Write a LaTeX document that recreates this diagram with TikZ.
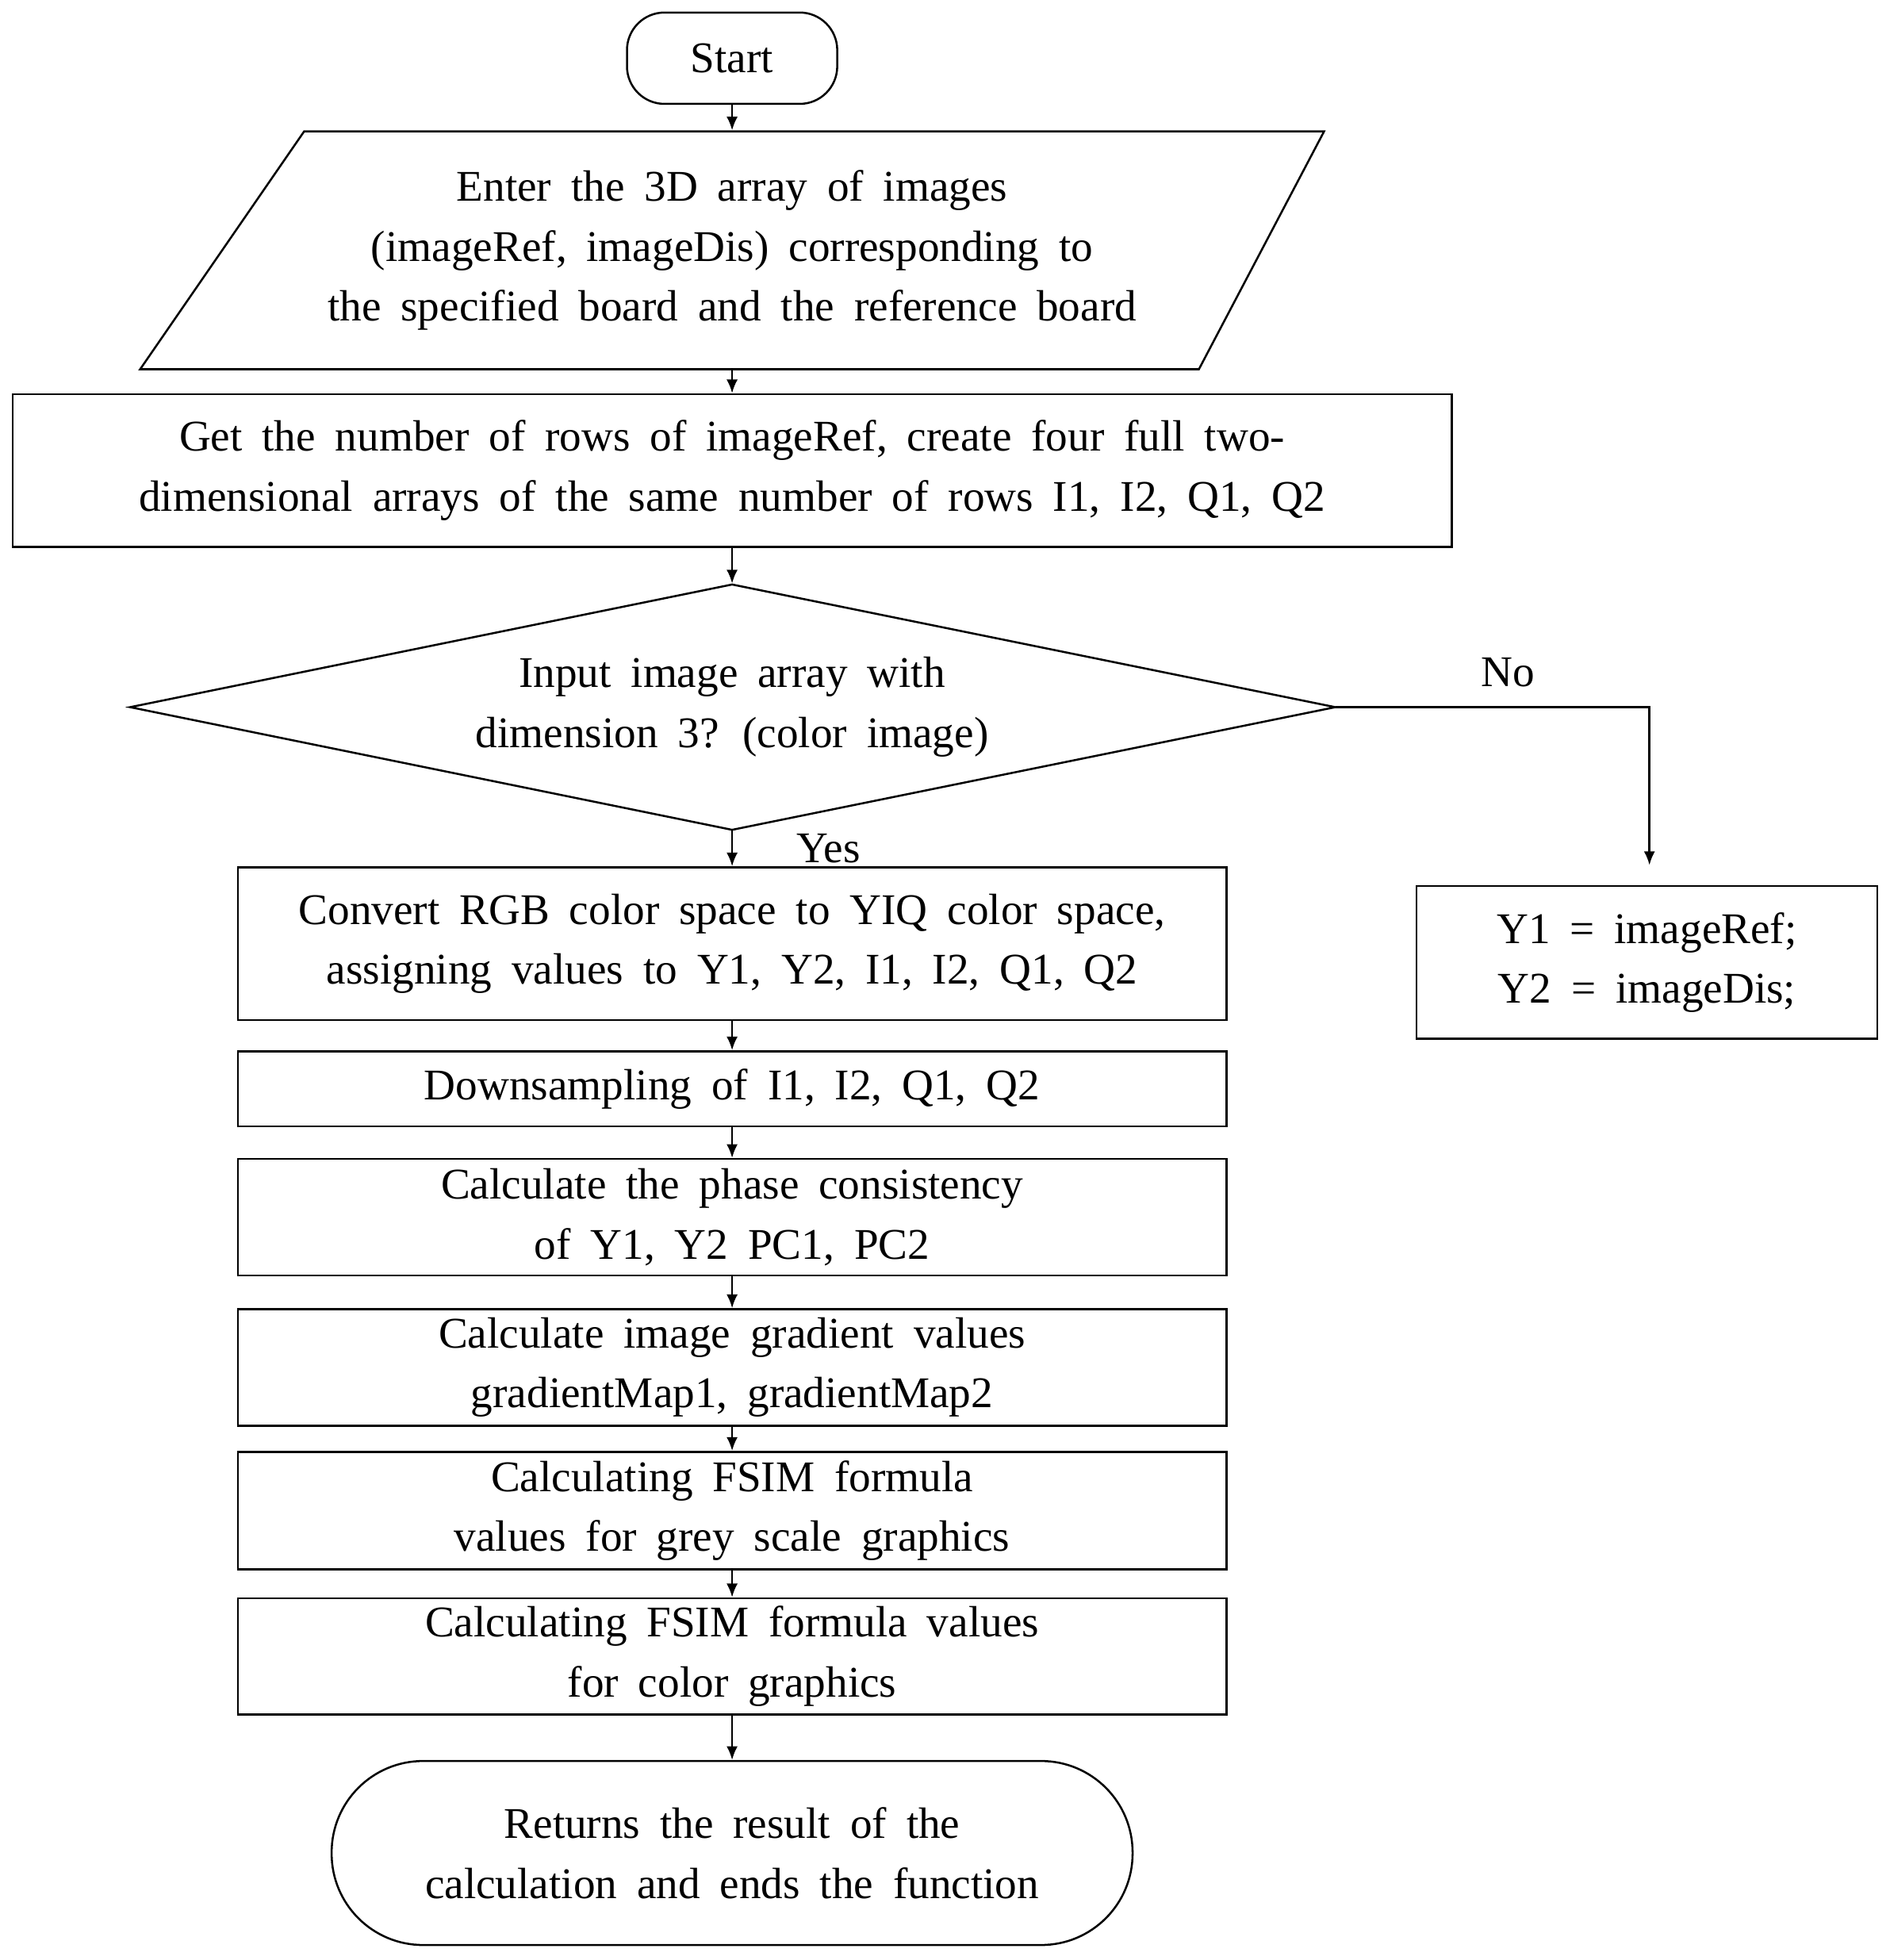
\documentclass[tikz,border=0pt]{standalone}
\usepackage{fontspec}
\setmainfont{Liberation Serif}
\usetikzlibrary{arrows.meta}
\newcommand\myfont{\fontsize{35}{48}\selectfont\spaceskip=0.45em\relax}
\begin{document}
\begin{tikzpicture}[x=1pt,y=-1pt,
  line width=1.6pt,
  every node/.style={font=\myfont, align=center, inner sep=0pt},
  box/.style={draw, minimum width=790pt},
  arr/.style={-{Latex[length=11pt,width=9pt]}}]
\useasboundingbox (0,0) rectangle (1510,1566);
\node[draw, rounded corners=30pt, minimum width=168pt, minimum height=73pt] (start) at (585,46.5) {Start};
\draw (243,105) -- (1058,105) -- (958,295) -- (112,295) -- cycle;
\node[minimum height=190pt, minimum width=700pt] (para) at (585,200) {Enter the 3D array of images\\(imageRef, imageDis) corresponding to\\the specified board and the reference board};
\node[draw, minimum width=1150pt, minimum height=122pt] (r1) at (585,376) {Get the number of rows of imageRef, create four full two-\\dimensional arrays of the same number of rows I1, I2, Q1, Q2};
\draw (585,467) -- (1067,565) -- (585,663) -- (104,565) -- cycle;
\node[minimum height=196pt, minimum width=600pt] (dia) at (585,565) {Input image array with\\dimension 3? (color image)};
\coordinate (dr) at (1067,565);
\coordinate (nc) at (1318,565);
\node[box, minimum height=122pt] (c1) at (585,754) {Convert RGB color space to YIQ color space,\\assigning values to Y1, Y2, I1, I2, Q1, Q2};
\node[draw, minimum width=368pt, minimum height=122pt] (y) at (1316,769) {Y1 = imageRef;\\Y2 = imageDis;};
\node[box, minimum height=60pt] (c2) at (585,870) {Downsampling of I1, I2, Q1, Q2};
\node[box, minimum height=93pt] (c3) at (585,972.5) {Calculate the phase consistency\\of Y1, Y2 PC1, PC2};
\node[box, minimum height=93pt] (c4) at (585,1092.5) {Calculate image gradient values\\gradientMap1, gradientMap2};
\node[box, minimum height=94pt] (c5) at (585,1207) {Calculating FSIM formula\\values for grey scale graphics};
\node[box, minimum height=93pt] (c6) at (585,1323.5) {Calculating FSIM formula values\\for color graphics};
\node[draw, rounded corners=73pt, minimum width=640pt, minimum height=147pt] (end) at (585,1480.5) {Returns the result of the\\calculation and ends the function};
\draw[arr] (start) -- (para);
\draw[arr] (para) -- (r1);
\draw[arr] (r1) -- (dia);
\draw[arr] (dia) -- (c1);
\node at (662,678) {Yes};
\draw[arr] (dr) -- (nc) -- ([xshift=2pt,yshift=16pt]y.north);
\node at (1205,537) {No};
\draw[arr] (c1) -- (c2);
\draw[arr] (c2) -- (c3);
\draw[arr] (c3) -- (c4);
\draw[arr] (c4) -- (c5);
\draw[arr] (c5) -- (c6);
\draw[arr] (c6) -- (end);
\end{tikzpicture}
\end{document}
